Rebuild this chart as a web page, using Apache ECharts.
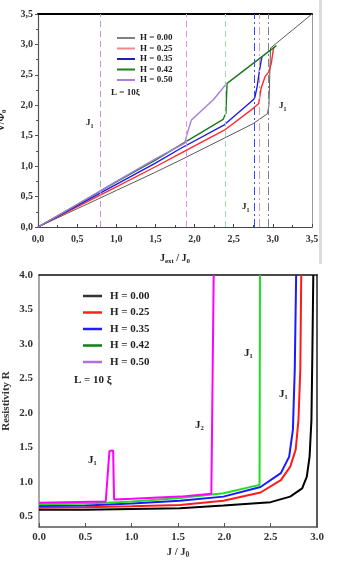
<!DOCTYPE html>
<html>
<head>
<meta charset="utf-8">
<script src="https://cdn.jsdelivr.net/npm/echarts@6/dist/echarts.min.js"></script>
<style>
  html, body { margin: 0; padding: 0; background: #fff; }
  #chart { width: 337px; height: 563px; }
</style>
</head>
<body>
<div id="chart"></div>
<script>
// legend names (shared by both panels)
const names = ['H = 0.00', 'H = 0.25', 'H = 0.35', 'H = 0.42', 'H = 0.50'];

// top panel: V/Phi0 against J_ext/J0
const vH000 = [[0,0],[0.5,0.30],[1.0,0.60],[1.5,0.90],[1.82,1.10],[2.38,1.46],[2.75,1.70],[2.93,1.86],[2.95,2.0],[2.97,2.94],[3.5,3.5]];
const vH025 = [[0,0],[0.5,0.33],[1.0,0.66],[1.5,0.99],[1.82,1.21],[2.38,1.59],[2.75,1.95],[2.82,2.03],[2.85,2.28],[2.90,2.47],[2.95,2.55],[2.98,2.69],[3.01,2.95]];
const vH035 = [[0,0],[0.5,0.35],[1.0,0.70],[1.5,1.05],[1.82,1.29],[2.38,1.68],[2.75,2.09],[2.77,2.13],[2.80,2.31],[2.83,2.58],[2.86,2.80]];
const vH042 = [[0,0],[0.5,0.37],[1.0,0.74],[1.5,1.10],[1.82,1.35],[2.365,1.77],[2.40,1.87],[2.415,2.36],[3.045,2.98]];
const vH050 = [[0,0],[0.5,0.37],[1.0,0.75],[1.5,1.12],[1.876,1.38],[1.90,1.51],[1.96,1.76],[2.07,1.89],[2.24,2.09],[2.41,2.36]];
// dashed markers on the top panel
const topMarks = [0.80, 1.885, 2.387, 2.76, 2.83, 2.94];

// bottom panel: resistivity R against J/J0
const rH000 = [[0,0.60],[0.5,0.60],[1.0,0.61],[1.52,0.62],[1.99,0.66],[2.50,0.71],[2.71,0.79],[2.84,0.91],[2.89,1.08],[2.92,1.37],[2.94,1.9],[2.95,2.87],[2.96,4.0]];
const rH025 = [[0,0.63],[0.5,0.635],[1.0,0.65],[1.52,0.67],[1.99,0.73],[2.39,0.85],[2.61,1.03],[2.71,1.22],[2.77,1.47],[2.80,1.90],[2.82,2.63],[2.83,4.0]];
const rH035 = [[0,0.655],[0.5,0.66],[1.0,0.69],[1.52,0.73],[1.99,0.79],[2.39,0.93],[2.61,1.13],[2.70,1.37],[2.74,1.76],[2.76,2.63],[2.775,4.0]];
const rH042 = [[0,0.68],[0.5,0.69],[0.73,0.70],[0.75,0.71],[1.0,0.72],[1.52,0.77],[1.99,0.84],[2.38,0.96],[2.385,4.0]];
const rH050 = [[0,0.70],[0.72,0.72],[0.74,0.74],[0.76,1.45],[0.77,1.47],[0.80,1.46],[0.81,0.75],[1.0,0.76],[1.52,0.79],[1.86,0.83],[1.885,4.0]];

const font = 'Liberation Serif';
const topColors = ['#5a5a5a', '#ff2a2a', '#1a1aee', '#1a7a1a', '#a07ee0'];
const topLegendColors = ['#808080', '#f08a8a', '#2020b0', '#208020', '#a880e0'];
const markColors = ['#c890d8', '#e890e8', '#a8d8b0', '#3050e0', '#f09898', '#808080'];
const markTypes = [[6,4], [6,4], [6,4], [8,3,2,3], [8,3,2,3], [8,3,2,3]];
const botColors = ['#000000', '#ff1a1a', '#1a1aff', '#22dd22', '#ff00ff'];
const botLegendColors = ['#333333', '#ff2020', '#2020ff', '#108010', '#b070e0'];

let myChart = echarts.init(document.getElementById('chart'));

const comma = v => v.toFixed(1).replace('.', ',');
const sub = {
    n: {fontFamily: font, fontWeight: 'bold', fontSize: 10, color: '#222', verticalAlign: 'top'},
    s: {fontFamily: font, fontWeight: 'bold', fontSize: 7, color: '#222', verticalAlign: 'top', padding: [5, 0, 0, 0]}
};
const j1 = {
    n: {font: 'bold 9px "Liberation Serif"', fill: '#222', verticalAlign: 'top'},
    s: {font: 'bold 6px "Liberation Serif"', fill: '#222', verticalAlign: 'top', padding: [5, 0, 0, 0]}
};

let series = [];
[vH000, vH025, vH035, vH042, vH050].forEach((d, i) => {
    series.push({
        name: names[i], type: 'line', xAxisIndex: 0, yAxisIndex: 0,
        data: d, symbol: 'none', z: 3,
        lineStyle: {color: topColors[i], width: i === 0 ? 1 : 1.4}
    });
});
// dashed vertical markers
series.push({
    type: 'line', xAxisIndex: 0, yAxisIndex: 0, data: [], symbol: 'none',
    markLine: {
        silent: true, symbol: 'none', label: {show: false},
        data: topMarks.map((x, i) => ({xAxis: x, lineStyle: {color: markColors[i], type: markTypes[i], width: 1}}))
    }
});
[rH000, rH025, rH035, rH042, rH050].forEach((d, i) => {
    series.push({
        name: names[i], type: 'line', xAxisIndex: 2, yAxisIndex: 2,
        data: d, symbol: 'none', z: 3 + i,
        lineStyle: {color: botColors[i], width: 2}
    });
});

let option = {
    animation: false,
    textStyle: {fontFamily: font},
    grid: [
        {left: 38, top: 14, width: 274, height: 213, outerBoundsMode: 'none', containLabel: false},
        {left: 39, top: 275, width: 278, height: 252, outerBoundsMode: 'none', containLabel: false}
    ],
    xAxis: [
        {
            gridIndex: 0, type: 'value', min: 0, max: 3.5, interval: 0.5,
            axisLine: {lineStyle: {color: '#444', width: 1.2}},
            axisTick: {inside: true, length: 3, lineStyle: {color: '#444'}},
            minorTick: {show: true, splitNumber: 2, length: 2, lineStyle: {color: '#444'}},
            splitLine: {show: false},
            axisLabel: {formatter: comma, margin: 7, fontFamily: font, fontWeight: 'bold', fontSize: 10, color: '#333'},
            name: '{n|J}{s|ext}{n| / J}{s|0}', nameLocation: 'middle', nameGap: 26,
            nameTextStyle: {rich: sub}
        },
        {
            gridIndex: 0, type: 'value', min: 0, max: 3.5, position: 'top',
            axisLine: {onZero: false, lineStyle: {color: '#000', width: 2}},
            axisTick: {show: false}, axisLabel: {show: false}, splitLine: {show: false}
        },
        {
            gridIndex: 1, type: 'value', min: 0, max: 3.0, interval: 0.5,
            axisLine: {lineStyle: {color: '#555', width: 1.5}},
            axisTick: {inside: true, length: 4, lineStyle: {color: '#555'}},
            splitLine: {show: false},
            axisLabel: {formatter: v => v.toFixed(1), margin: 5, fontFamily: font, fontWeight: 'bold', fontSize: 11, color: '#333'},
            name: '{n|J / J}{s|0}', nameLocation: 'middle', nameGap: 20,
            nameTextStyle: {rich: {
                n: {fontFamily: font, fontWeight: 'bold', fontSize: 10.5, color: '#333', verticalAlign: 'top'},
                s: {fontFamily: font, fontWeight: 'bold', fontSize: 7.5, color: '#333', verticalAlign: 'top', padding: [4, 0, 0, 0]}
            }}
        },
        {
            gridIndex: 1, type: 'value', min: 0, max: 3.0, position: 'top',
            axisLine: {onZero: false, lineStyle: {color: '#111', width: 1.5}},
            axisTick: {show: false}, axisLabel: {show: false}, splitLine: {show: false}
        }
    ],
    yAxis: [
        {
            gridIndex: 0, type: 'value', min: 0, max: 3.5, interval: 0.5,
            axisLine: {show: true, lineStyle: {color: '#555', width: 1.2}},
            axisTick: {show: true, length: 3, lineStyle: {color: '#555'}},
            minorTick: {show: true, splitNumber: 2, length: 2, lineStyle: {color: '#555'}},
            splitLine: {show: false},
            axisLabel: {formatter: comma, margin: 5, fontFamily: font, fontWeight: 'bold', fontSize: 10, color: '#333'},
            name: '{n|V/Φ}{s|0}', nameLocation: 'middle', nameGap: 30, nameRotate: 90,
            nameTextStyle: {rich: sub}
        },
        {
            gridIndex: 0, type: 'value', min: 0, max: 3.5, position: 'right',
            axisLine: {show: true, onZero: false, lineStyle: {color: '#999', width: 1}},
            axisTick: {show: false}, axisLabel: {show: false}, splitLine: {show: false}
        },
        {
            gridIndex: 1, type: 'value', min: 0.35, max: 4.0, interval: 0.05,
            axisLine: {show: true, lineStyle: {color: '#888', width: 1.5}},
            axisTick: {show: false},
            splitLine: {show: false},
            axisLabel: {
                formatter: v => Math.abs(v * 2 - Math.round(v * 2)) < 1e-6 ? v.toFixed(1) : '',
                margin: 6, fontFamily: font, fontWeight: 'bold', fontSize: 11, color: '#333'
            },
            name: 'Resistivity R', nameLocation: 'middle', nameGap: 27, nameRotate: 90,
            nameMoveOverlap: false,
            nameTextStyle: {fontFamily: font, fontWeight: 'bold', fontSize: 11, color: '#333'}
        },
        {
            gridIndex: 1, type: 'value', min: 0.35, max: 4.0, position: 'right',
            axisLine: {show: true, onZero: false, lineStyle: {color: '#222', width: 1.5}},
            axisTick: {show: false}, axisLabel: {show: false}, splitLine: {show: false}
        }
    ],
    legend: [
        {
            orient: 'vertical', left: 112, top: 28, icon: 'rect',
            itemWidth: 18, itemHeight: 2, itemGap: 0.5,
            selectedMode: false,
            textStyle: {fontFamily: font, fontWeight: 'bold', fontSize: 9, lineHeight: 10, color: '#222'},
            data: names.map((n, i) => ({name: n, itemStyle: {color: topLegendColors[i]}}))
        },
        {
            orient: 'vertical', left: 78, top: 285, icon: 'rect',
            itemWidth: 19, itemHeight: 2.5, itemGap: 4.5,
            selectedMode: false,
            textStyle: {fontFamily: font, fontWeight: 'bold', fontSize: 11, lineHeight: 12, color: '#222', padding: [0, 0, 0, 3]},
            data: names.map((n, i) => ({name: n, itemStyle: {color: botLegendColors[i]}}))
        }
    ],
    graphic: [
        {type: 'rect', shape: {x: 319, y: 0, width: 3, height: 264}, style: {fill: '#dcdcdc'}, silent: true},
        {type: 'text', left: 111, top: 88, style: {text: 'L = 10ξ', font: 'bold 9px "Liberation Serif"', fill: '#222'}},
        {type: 'text', left: 74, top: 375, style: {text: 'L = 10 ξ', font: 'bold 11px "Liberation Serif"', fill: '#222'}},
        {type: 'text', left: 86, top: 118, style: {text: '{n|J}{s|1}', rich: j1}},
        {type: 'text', left: 279, top: 101, style: {text: '{n|J}{s|1}', rich: j1}},
        {type: 'text', left: 242, top: 202, style: {text: '{n|J}{s|1}', rich: j1}},
        {type: 'text', left: 88, top: 455, style: {text: 'J₁', font: 'bold 11px "Liberation Serif"', fill: '#222'}},
        {type: 'text', left: 195, top: 420, style: {text: 'J₂', font: 'bold 11px "Liberation Serif"', fill: '#222'}},
        {type: 'text', left: 244, top: 348, style: {text: 'J₁', font: 'bold 11px "Liberation Serif"', fill: '#222'}},
        {type: 'text', left: 279, top: 389, style: {text: 'J₁', font: 'bold 11px "Liberation Serif"', fill: '#222'}}
    ],
    series: series
};

myChart.setOption(option);
</script>
</body>
</html>
